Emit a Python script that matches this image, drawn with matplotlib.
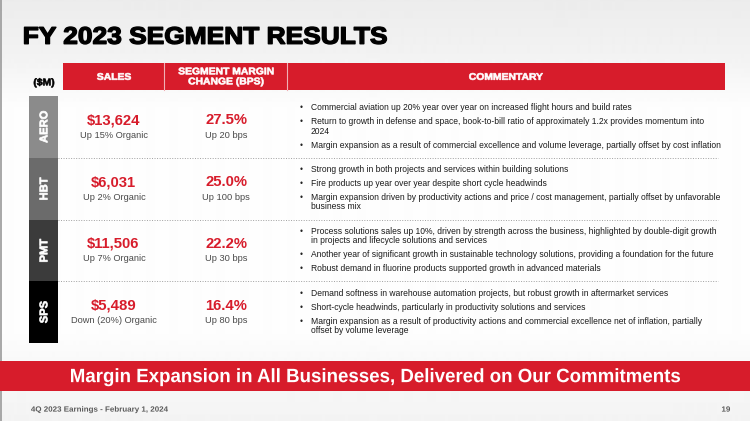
import matplotlib
matplotlib.use("Agg")
import matplotlib.pyplot as plt
import numpy as np
from matplotlib.patches import Rectangle, PathPatch
from matplotlib.textpath import TextPath
from matplotlib.font_manager import FontProperties
import matplotlib.transforms as mtrans

# ---------------- data ----------------
title = "FY 2023 SEGMENT RESULTS"
unit_label = "($M)"
headers = ["SALES", "SEGMENT MARGIN\nCHANGE (BPS)", "COMMENTARY"]
segments = ["AERO", "HBT", "PMT", "SPS"]
sales = [13624, 6031, 11506, 5489]
organic_growth = [15, 2, 7, -20]
segment_margin = [27.5, 25.0, 22.2, 16.4]
margin_change_bps = [20, 100, 30, 80]
commentary = [
    ["Commercial aviation up 20% year over year on increased flight hours and build rates",
     "Return to growth in defense and space, book-to-bill ratio of approximately 1.2x provides momentum into\n2024",
     "Margin expansion as a result of commercial excellence and volume leverage, partially offset by cost inflation"],
    ["Strong growth in both projects and services within building solutions",
     "Fire products up year over year despite short cycle headwinds",
     "Margin expansion driven by productivity actions and price / cost management, partially offset by unfavorable\nbusiness mix"],
    ["Process solutions sales up 10%, driven by strength across the business, highlighted by double-digit growth\nin projects and lifecycle solutions and services",
     "Another year of significant growth in sustainable technology solutions, providing a foundation for the future",
     "Robust demand in fluorine products supported growth in advanced materials"],
    ["Demand softness in warehouse automation projects, but robust growth in aftermarket services",
     "Short-cycle headwinds, particularly in productivity solutions and services",
     "Margin expansion as a result of productivity actions and commercial excellence net of inflation, partially\noffset by volume leverage"],
]
banner = "Margin Expansion in All Businesses, Delivered on Our Commitments"
footer_left = "4Q 2023 Earnings - February 1, 2024"
page_number = "19"

# ---------------- style ----------------
RED = "#d71c2b"
BOX_COLORS = ["#8b8b8b", "#6b6b6b", "#3b3b3b", "#000000"]
W, H = 750, 421
BODY = ["Liberation Sans", "DejaVu Sans"]
FP_BOLD = FontProperties(family=["Liberation Sans", "DejaVu Sans"], weight="bold")

fig = plt.figure(figsize=(W / 100, H / 100), dpi=100)
ax = fig.add_axes([0, 0, 1, 1])
ax.set_xlim(0, W)
ax.set_ylim(H, 0)
ax.axis("off")
renderer = fig.canvas.get_renderer()

# background gradient
yy = np.arange(H)
shade = np.interp(yy, [0, 55, 110, 330, 360, 421], [0.925, 0.95, 0.995, 0.995, 0.975, 0.955])
ax.imshow(shade[:, None], extent=[0, W, H, 0], aspect="auto", cmap="gray",
          vmin=0, vmax=1, zorder=0, interpolation="bilinear")
ax.plot([1, 1], [0, H], color="#9a9a9a", lw=1.2, zorder=1)

_CAP = TextPath((0, 0), "H", size=100, prop=FP_BOLD).get_extents().height


def stretch_for(s, width, cap, fp=FP_BOLD):
    ext = TextPath((0, 0), s, size=100, prop=fp).get_extents()
    return width / (ext.width * cap / _CAP)


def ptext(s, x, y, cap, stretch=1.0, ha="left", rot=False, color="black", lw=0.0, fp=FP_BOLD, z=4):
    """Draw text as an outline path. y is the vertical centre of the capitals."""
    tp = TextPath((0, 0), s, size=100, prop=fp)
    ext = tp.get_extents()
    sy = cap / _CAP
    sx = sy * stretch
    width = ext.width * sx
    base = mtrans.Affine2D().translate(-ext.x0, 0).scale(sx, sy)
    if not rot:
        x0 = x if ha == "left" else (x - width / 2 if ha == "center" else x - width)
        m = mtrans.Affine2D(np.array([[1, 0, x0], [0, -1, y + cap / 2], [0, 0, 1]]))
    else:
        # reads bottom-to-top, centred on (x, y)
        m = mtrans.Affine2D(np.array([[0, -1, x + cap / 2], [-1, 0, y + width / 2], [0, 0, 1]]))
    path = (base + m).transform_path(tp)
    ax.add_patch(PathPatch(path, facecolor=color, edgecolor=color if lw else "none",
                           lw=lw, joinstyle="round", zorder=z))


def fitsize(s, width, **kw):
    t = ax.text(0, 0, s, fontsize=10, **kw)
    bb = t.get_window_extent(renderer)
    t.remove()
    return 10 * width / bb.width


# title
st = stretch_for(title, 362, 16.5)
ptext(title, 24.5, 35.5, 16.5, stretch=st, color="black", lw=1.0)

# header band
ax.add_patch(Rectangle((63, 63), 725 - 63, 27, facecolor=RED, edgecolor="none", zorder=2))
for xd in (164, 287):
    ax.plot([xd, xd], [63, 90], color="#f0b0b5", lw=0.8, zorder=3)
HCAP = 6.6
hst = stretch_for("SEGMENT MARGIN", 95, HCAP)
ptext(unit_label, 44, 82, HCAP, stretch=hst, ha="center", color="black", lw=0.45)
header_x = [114, 226, 506]
for hx, htxt in zip(header_x, headers):
    lines = htxt.split("\n")
    ys = [76.5] if len(lines) == 1 else [71, 81]
    for ly, line in zip(ys, lines):
        ptext(line, hx, ly, HCAP, stretch=hst, ha="center", color="white", lw=0.45)

# rows
row_top0, row_h = 96, 61.75
SEGCAP = 7.6
sst = stretch_for("AERO", 31.5, SEGCAP)
val_fs = fitsize("$13,624", 54, family=BODY, fontweight="bold")
sub_fs = fitsize("Up 15% Organic", 68, family=BODY)
com_fs = fitsize(commentary[0][0], 320, family=BODY)

for i, seg in enumerate(segments):
    top = row_top0 + i * row_h
    cy = top + row_h / 2
    ax.add_patch(Rectangle((29, top), 29, row_h, facecolor=BOX_COLORS[i],
                           edgecolor="none", zorder=2))
    ptext(seg, 43.5, cy, SEGCAP, stretch=sst, rot=True, color="white", lw=0.5)
    # sales
    ax.text(113.5, cy - 6.5, f"${sales[i]:,}", fontsize=val_fs, family=BODY,
            fontweight="bold", color=RED, ha="center", va="center", zorder=3)
    g = organic_growth[i]
    gtxt = f"Up {g}% Organic" if g >= 0 else f"Down ({-g}%) Organic"
    ax.text(114, cy + 8.5, gtxt, fontsize=sub_fs, family=BODY,
            color="#4a4a4a", ha="center", va="center", zorder=3)
    # margin
    ax.text(226, cy - 6.5, f"{segment_margin[i]:.1f}%", fontsize=val_fs, family=BODY,
            fontweight="bold", color=RED, ha="center", va="center", zorder=3)
    ax.text(226, cy + 8.5, f"Up {margin_change_bps[i]} bps", fontsize=sub_fs,
            family=BODY, color="#4a4a4a", ha="center", va="center", zorder=3)
    # commentary
    ly = top + 12
    for bullet in commentary[i]:
        ax.text(301, ly, "\u2022", fontsize=com_fs, family=BODY, color="#222222",
                ha="center", va="center", zorder=3)
        blines = bullet.split("\n")
        for k, bl in enumerate(blines):
            ax.text(311, ly, bl, fontsize=com_fs, family=BODY, color="#1a1a1a",
                    ha="left", va="center", zorder=3)
            if k < len(blines) - 1:
                ly += 9
        ly += 14
    if i < len(segments) - 1:
        yb = top + row_h
        ax.plot([58, 718], [yb, yb], color="#a0a0a0", lw=0.7,
                linestyle=(0, (1, 1.6)), zorder=3)

# bottom banner
ax.add_patch(Rectangle((0, 361), W, 29.5, facecolor=RED, edgecolor="none", zorder=2))
bst = stretch_for(banner, 609, 13.3)
ptext(banner, 71, 375.5, 13.3, stretch=bst, color="white")

# footer
fst = stretch_for(footer_left, 137, 5.2)
ptext(footer_left, 31, 409, 5.2, stretch=fst, color="#5a5a5a")
ptext(page_number, 726, 409, 5.2, stretch=fst, ha="center", color="#5a5a5a")

fig.savefig("out.png", dpi=100)
